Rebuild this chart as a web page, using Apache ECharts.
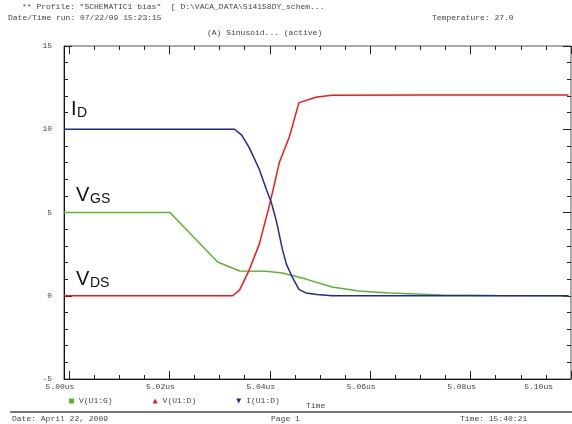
<!DOCTYPE html>
<html>
<head>
<meta charset="utf-8">
<script src="https://cdn.jsdelivr.net/npm/echarts@6/dist/echarts.min.js"></script>
<style>
    html, body { margin: 0; padding: 0; background: #fff; }
    #chart { width: 572px; height: 424px; }
</style>
</head>
<body>
<div id="chart"></div>
<script>
    // time in us
    var vgsTime  = [4.999, 5.010, 5.0201, 5.0296, 5.0340, 5.0393, 5.0425, 5.0472, 5.0524, 5.0577, 5.0637, 5.0742, 5.085, 5.0995];
    var vgsValue = [5.0, 5.0, 5.0, 2.03, 1.49, 1.47, 1.37, 1.0, 0.53, 0.29, 0.16, 0.05, 0.02, 0.0];

    var vdsTime  = [4.999, 5.020, 5.0326, 5.0340, 5.0359, 5.0379, 5.0399, 5.0419, 5.0439, 5.0458, 5.0494, 5.0524, 5.070, 5.0995];
    var vdsValue = [0, 0, 0, 0.35, 1.55, 3.1, 5.4, 8.0, 9.55, 11.6, 11.94, 12.04, 12.05, 12.05];

    var idTime  = [4.999, 5.020, 5.0330, 5.0344, 5.0359, 5.0379, 5.0393, 5.0403, 5.0413, 5.0425, 5.0433, 5.0445, 5.0458, 5.0472, 5.0494, 5.0524, 5.070, 5.0995];
    var idValue = [10, 10, 10, 9.65, 8.9, 7.6, 6.4, 5.6, 4.5, 2.8, 1.9, 1.1, 0.38, 0.17, 0.08, 0.0, 0.0, 0.0];

    var seriesNames = ['V(U1:G)', 'V(U1:D)', 'I(U1:D)'];
    var seriesColors = ['#5cb32e', '#f01818', '#1f2a94'];

    var majorTicks = [5.00, 5.02, 5.04, 5.06, 5.08, 5.10];
    var minorTicks = [5.000, 5.005, 5.010, 5.015, 5.020, 5.025, 5.030, 5.035, 5.040, 5.045, 5.050,
                      5.055, 5.060, 5.065, 5.070, 5.075, 5.080, 5.085, 5.090, 5.095, 5.100];

    var mono = '"Liberation Mono", "DejaVu Sans Mono", monospace';
    var sans = '"Liberation Sans", Arial, sans-serif';

    function pairs(t, v) {
        return t.map(function (x, i) { return [x, v[i]]; });
    }

    function timeAxis(pos, ticks, len, withLabels) {
        return {
            type: 'value',
            position: pos,
            min: 4.999,
            max: 5.1,
            axisLine: { show: withLabels, onZero: false, lineStyle: { color: '#111', width: 1 } },
            axisTick: { show: true, inside: true, length: len, customValues: ticks, lineStyle: { color: '#222' } },
            axisLabel: withLabels ? {
                show: true,
                customValues: majorTicks,
                formatter: function (v) { return v.toFixed(2) + 'us'; },
                fontFamily: mono,
                fontSize: 8,
                color: '#444',
                margin: 4,
                padding: [0, 18, 0, 0],
                alignMaxLabel: 'right'
            } : { show: false },
            splitLine: { show: false }
        };
    }

    function valueAxis(pos, withLabels) {
        return {
            type: 'value',
            position: pos,
            min: -5,
            max: 15,
            interval: 5,
            axisLine: { show: withLabels, onZero: false, lineStyle: { color: '#111' } },
            axisTick: { show: true, inside: true, length: 8, lineStyle: { color: '#222' } },
            minorTick: { show: true, splitNumber: 5, length: 4, lineStyle: { color: '#222' } },
            axisLabel: withLabels ? { fontFamily: mono, fontSize: 8, color: '#444', margin: 12 } : { show: false },
            splitLine: { show: false }
        };
    }

    var chart = echarts.init(document.getElementById('chart'));
    chart.setOption({
        backgroundColor: '#fff',
        animation: false,
        grid: { left: 64, right: 1, top: 46, bottom: 45, show: true, borderColor: '#555', borderWidth: 1 },
        xAxis: [
            timeAxis('bottom', majorTicks, 8, true),
            timeAxis('bottom', minorTicks, 4, false),
            timeAxis('top', majorTicks, 8, false),
            timeAxis('top', minorTicks, 4, false)
        ],
        yAxis: [valueAxis('left', true), valueAxis('right', false)],
        legend: {
            left: 64,
            top: 392,
            itemWidth: 5,
            itemHeight: 5,
            itemGap: 40,
            textStyle: { fontFamily: mono, fontSize: 8, color: '#444' },
            data: [
                { name: seriesNames[0], icon: 'rect' },
                { name: seriesNames[1], icon: 'triangle' },
                { name: seriesNames[2], icon: 'path://M0,0L10,0L5,10Z' }
            ]
        },
        series: [
            { name: seriesNames[0], data: pairs(vgsTime, vgsValue) },
            { name: seriesNames[1], data: pairs(vdsTime, vdsValue) },
            { name: seriesNames[2], data: pairs(idTime, idValue) }
        ].map(function (s, i) {
            s.type = 'line';
            s.showSymbol = false;
            s.color = seriesColors[i];
            s.lineStyle = { width: 1.5, color: seriesColors[i] };
            return s;
        }),
        graphic: [
            // header
            { type: 'text', left: 22, top: 3, style: { text: '** Profile: "SCHEMATIC1 bias"  [ D:\\VACA_DATA\\Si4158DY_schem...', font: '8px ' + mono, fill: '#444' } },
            { type: 'text', left: 8, top: 14, style: { text: 'Date/Time run: 07/22/09 15:23:15', font: '8px ' + mono, fill: '#444' } },
            { type: 'text', left: 432, top: 14, style: { text: 'Temperature: 27.0', font: '8px ' + mono, fill: '#444' } },
            { type: 'text', left: 207, top: 29, style: { text: '(A) Sinusoid... (active)', font: '8px ' + mono, fill: '#444' } },
            // curve labels
            { type: 'text', left: 71, top: 99, style: { text: 'I', font: '20px ' + sans, fill: '#111' } },
            { type: 'text', left: 77, top: 106, style: { text: 'D', font: '14px ' + sans, fill: '#111' } },
            { type: 'text', left: 76, top: 185, style: { text: 'V', font: '20px ' + sans, fill: '#111' } },
            { type: 'text', left: 90, top: 192, style: { text: 'GS', font: '14px ' + sans, fill: '#111' } },
            { type: 'text', left: 76, top: 269, style: { text: 'V', font: '20px ' + sans, fill: '#111' } },
            { type: 'text', left: 90, top: 276, style: { text: 'DS', font: '14px ' + sans, fill: '#111' } },
            // x axis title, separator and footer
            { type: 'text', left: 306, top: 402, style: { text: 'Time', font: '8px ' + mono, fill: '#444' } },
            { type: 'line', shape: { x1: 10, y1: 412, x2: 572, y2: 412 }, style: { stroke: '#777', lineWidth: 2 } },
            { type: 'text', left: 12, top: 415, style: { text: 'Date: April 22, 2009', font: '8px ' + mono, fill: '#444' } },
            { type: 'text', left: 271, top: 415, style: { text: 'Page 1', font: '8px ' + mono, fill: '#444' } },
            { type: 'text', left: 460, top: 415, style: { text: 'Time: 15:40:21', font: '8px ' + mono, fill: '#444' } }
        ]
    });
</script>
</body>
</html>
